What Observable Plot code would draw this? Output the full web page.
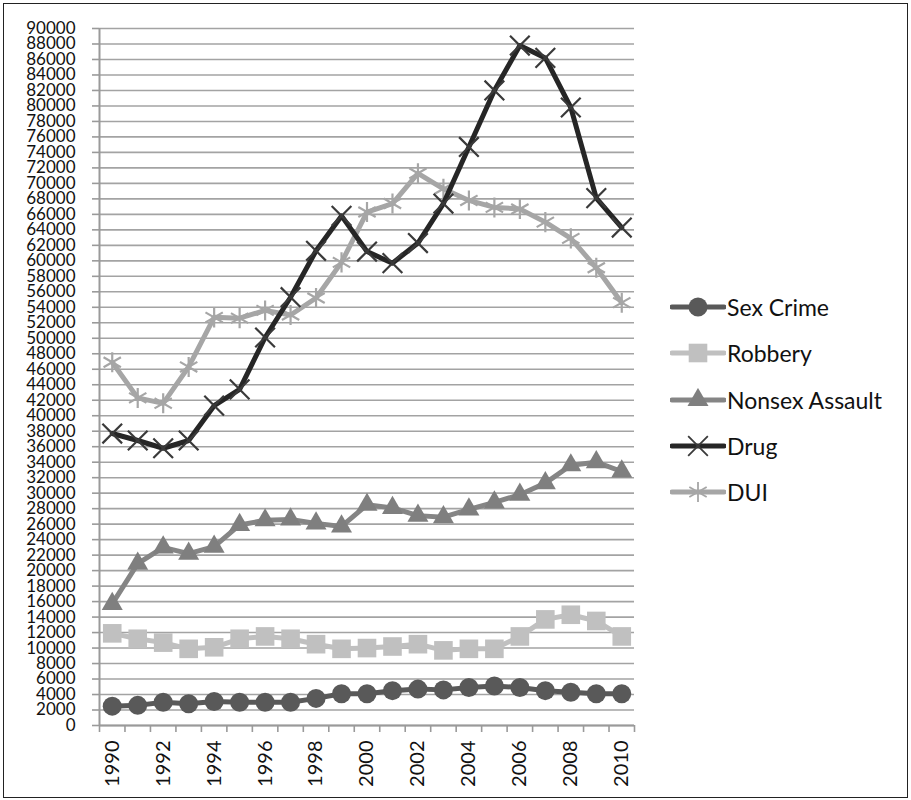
<!DOCTYPE html>
<html>
<head>
<meta charset="utf-8">
<script src="https://cdn.jsdelivr.net/npm/d3@7"></script>
<script src="https://cdn.jsdelivr.net/npm/@observablehq/plot@0.6"></script>
<style>
  html, body { margin: 0; padding: 0; background: #fff; }
  #wrap { position: absolute; left: 0; top: 0; width: 911px; height: 800px; }
  #frame { position: absolute; left: 3px; top: 3px; width: 903px; height: 793px; border: 1.5px solid #222; }
  #chart { position: absolute; left: 0; top: 0; }
  #chart svg g[aria-label="y-axis tick label"] text { font-size: 17px !important; }
  #chart svg g[aria-label="x-axis tick label"] text { font-size: 20px !important; }
  #legend { position: absolute; left: 670px; top: 284px; font-family: Lato, "Open Sans", sans-serif; font-size: 23px; color: #111; }
  .row { display: flex; align-items: center; height: 46.3px; }
  .row svg { margin-right: 1px; }
</style>
</head>
<body>
<div id="wrap">
  <div id="frame"></div>
  <div id="chart"></div>
  <div id="legend"></div>
</div>
<script>
// ---- data ----
const years = [1990,1991,1992,1993,1994,1995,1996,1997,1998,1999,2000,2001,2002,2003,2004,2005,2006,2007,2008,2009,2010];
const sexCrime      = [2500,2600,3000,2800,3100,3000,3000,3000,3500,4100,4100,4500,4700,4600,4900,5100,4900,4500,4300,4100,4100];
const robbery       = [11900,11200,10700,9900,10100,11200,11500,11200,10500,9900,10000,10200,10500,9700,9900,9900,11500,13700,14300,13500,11500];
const nonsexAssault = [15700,20900,23000,22200,23100,25900,26500,26600,26100,25700,28500,28100,27100,26900,27900,28800,29800,31300,33600,34000,32800];
const drug          = [37700,36800,35800,36800,41300,43400,50100,55300,61300,65800,61200,59700,62300,67400,74700,82000,87800,86200,79800,68100,64300];
const dui           = [46900,42300,41600,46300,52700,52600,53600,53000,55200,59800,66300,67400,71300,69300,67800,66900,66700,65000,62900,59100,54600];
const seriesNames   = ["Sex Crime","Robbery","Nonsex Assault","Drug","DUI"];
const yTicks = d3.range(0, 90001, 2000);
const xLabelYears = [1990,1992,1994,1996,1998,2000,2002,2004,2006,2008,2010];
const xBoundaries = d3.range(1989.5, 2011, 1);

const valuesByName = {"Sex Crime": sexCrime, "Robbery": robbery, "Nonsex Assault": nonsexAssault, "Drug": drug, "DUI": dui};
const styles = {
  "Sex Crime":      {line: "#595959", mark: "#595959", symbol: "circle",   r: 9.5, filled: true},
  "Robbery":        {line: "#c0c0c0", mark: "#c0c0c0", symbol: "square",   r: 10.5, filled: true},
  "Nonsex Assault": {line: "#858585", mark: "#7f7f7f", symbol: "triangle", r: 7.8, filled: true},
  "Drug":           {line: "#262626", mark: "#3a3a3a", symbol: "times",    r: 9,   filled: false},
  "DUI":            {line: "#a6a6a6", mark: "#a6a6a6", symbol: "asterisk", r: 9.5, filled: false}
};
const drawOrder = ["Sex Crime","Robbery","Nonsex Assault","DUI","Drug"];

const rows = [];
for (const name of seriesNames) {
  valuesByName[name].forEach((v, i) => rows.push({series: name, year: years[i], value: v}));
}

const marks = [
  Plot.gridY(yTicks, {stroke: "#a3a3a3", strokeOpacity: 1, strokeWidth: 1.6}),
  Plot.axisY({ticks: yTicks, tickSize: 7, tickPadding: 17, stroke: "#9a9a9a", strokeWidth: 1.6, label: null, tickFormat: d => String(d), fill: "#111"}),
  Plot.ruleX([1989.5], {stroke: "#9a9a9a", strokeWidth: 2}),
  Plot.ruleY([0], {stroke: "#9a9a9a", strokeWidth: 2}),
  Plot.axisX({ticks: xBoundaries, tickSize: 7, tickFormat: () => "", stroke: "#9a9a9a", strokeWidth: 1.6, label: null}),
  Plot.axisX({ticks: xLabelYears, tickSize: 0, tickRotate: -90, tickPadding: 15, tickFormat: d => String(d), label: null, fill: "#111"})
];
for (const name of drawOrder) {
  const st = styles[name];
  const data = rows.filter(d => d.series === name);
  marks.push(Plot.lineY(data, {x: "year", y: "value", stroke: st.line, strokeWidth: 5, strokeLinejoin: "round", strokeLinecap: "round"}));
  marks.push(Plot.dot(data, st.filled
    ? {x: "year", y: "value", symbol: () => st.symbol, r: st.r, fill: st.mark, stroke: "none"}
    : {x: "year", y: "value", symbol: () => st.symbol, r: st.r, fill: "none", stroke: st.mark, strokeWidth: 2.2}));
}

const chart = Plot.plot({
  width: 640,
  height: 800,
  marginLeft: 99,
  marginRight: 6,
  marginTop: 28,
  marginBottom: 75,
  x: {type: "linear", domain: [1989.5, 2010.5], axis: null},
  y: {type: "linear", domain: [0, 90000], axis: null},
  style: {fontFamily: "Lato, 'Open Sans', sans-serif", fontSize: "17px", color: "#111", background: "transparent", overflow: "visible"},
  marks
});
document.getElementById("chart").appendChild(chart);

// ---- legend ----
const legend = document.getElementById("legend");
const symbolPath = (sym, r) => {
  const map = {circle: d3.symbolCircle, square: d3.symbolSquare, triangle: d3.symbolTriangle, times: d3.symbolTimes, asterisk: d3.symbolAsterisk};
  return d3.symbol(map[sym], Math.PI * r * r)();
};
for (const name of seriesNames) {
  const st = styles[name];
  const row = document.createElement("div");
  row.className = "row";
  const ns = "http://www.w3.org/2000/svg";
  const svg = document.createElementNS(ns, "svg");
  svg.setAttribute("width", 56); svg.setAttribute("height", 24);
  const line = document.createElementNS(ns, "line");
  line.setAttribute("x1", 2); line.setAttribute("x2", 54); line.setAttribute("y1", 12); line.setAttribute("y2", 12);
  line.setAttribute("stroke", st.line); line.setAttribute("stroke-width", 5); line.setAttribute("stroke-linecap", "round");
  svg.appendChild(line);
  const p = document.createElementNS(ns, "path");
  p.setAttribute("d", symbolPath(st.symbol, st.r));
  p.setAttribute("transform", "translate(28,12)");
  if (st.filled) { p.setAttribute("fill", st.mark); }
  else { p.setAttribute("fill", "none"); p.setAttribute("stroke", st.mark); p.setAttribute("stroke-width", 1.8); }
  svg.appendChild(p);
  row.appendChild(svg);
  const t = document.createElement("span");
  t.textContent = name;
  row.appendChild(t);
  legend.appendChild(row);
}
</script>
</body>
</html>
